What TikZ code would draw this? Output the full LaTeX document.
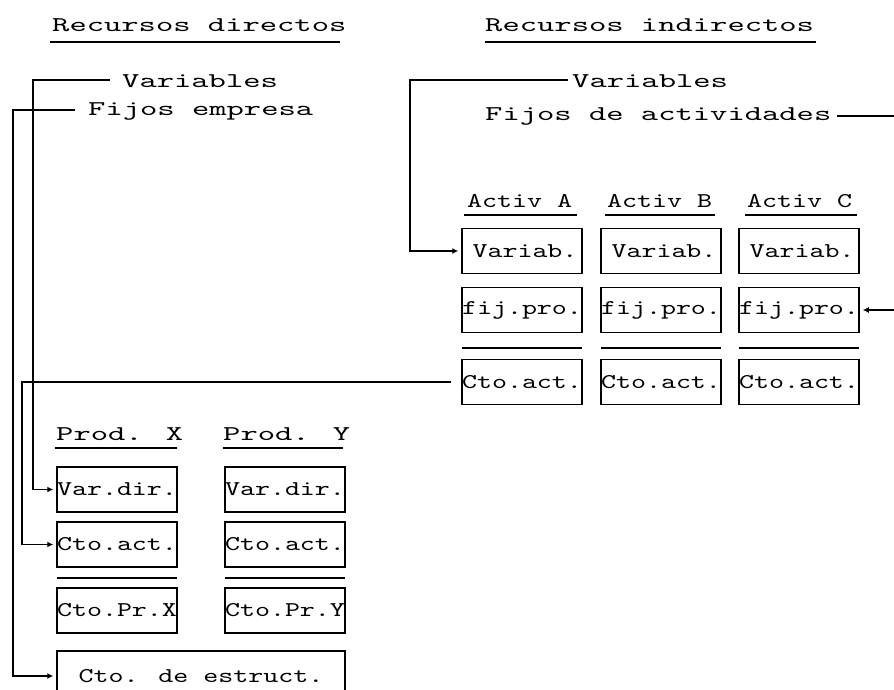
\documentclass[tikz,border=0pt]{standalone}
\usepackage{fontspec}
\usetikzlibrary{arrows.meta}
\newfontfamily\hdrf[FakeStretch=1.57]{lmmono10-regular.otf}
\newfontfamily\boxf[FakeStretch=1.36]{lmmono10-regular.otf}
\newcommand{\hdrfont}{\hdrf\fontsize{21}{21}\selectfont}
\newcommand{\boxfont}{\boxf\fontsize{21}{21}\selectfont}
\begin{document}
\begin{tikzpicture}[x=1pt,y=-1pt,
  lbl/.style={font=\hdrfont, inner sep=0pt, anchor=base west},
  slbl/.style={lbl, font=\boxfont},
  bx/.style={draw, line width=1.5pt, minimum width=120pt, minimum height=45pt, inner sep=0pt, font=\boxfont},
  ln/.style={line width=1.5pt},
  arr/.style={ln, -{Latex[length=6pt,width=6pt]}, shorten >=3pt}]
\fill[white] (0,0) rectangle (894,690);
\useasboundingbox (0,0) rectangle (894,690);
% headers
\node[lbl] (rd) at (52,32) {Recursos directos};
\node[lbl] (ri) at (485,32) {Recursos indirectos};
\draw[ln] (50,42) -- (340,42);
\draw[ln] (485,42) -- (816,42);
\node[lbl] (lv) at (122,88) {Variables};
\node[lbl] (lf) at (88,116) {Fijos empresa};
\node[lbl] (rv) at (572,88) {Variables};
\node[lbl] (rf) at (485,121) {Fijos de actividades};
% activities
\node[slbl] (aa) at (467,207) {Activ A};
\node[slbl] (ab) at (607,207) {Activ B};
\node[slbl] (ac) at (747,207) {Activ C};
\draw[ln] (464,215) -- (577,215);
\draw[ln] (605,215) -- (715,215);
\draw[ln] (745,215) -- (857,215);
\node[bx] (av) at (522,251) {\hspace*{6pt}Variab.};
\node[bx] (bv) at (661,251) {\hspace*{6pt}Variab.};
\node[bx] (cv) at (799,251) {\hspace*{6pt}Variab.};
\node[bx] (af) at (522,310) {fij.pro.};
\node[bx] (bf) at (661,310) {fij.pro.};
\node[bx] (cf) at (799,310) {fij.pro.};
\draw[ln] (462,348) -- (582,348);
\draw[ln] (601,348) -- (721,348);
\draw[ln] (739,348) -- (859,348);
\node[bx] (ac1) at (522,382) {Cto.act.};
\node[bx] (bc1) at (661,382) {Cto.act.};
\node[bx] (cc1) at (799,382) {Cto.act.};
% products
\node[lbl] (px) at (56,440) {Prod. X};
\node[lbl] (py) at (223,440) {Prod. Y};
\draw[ln] (55,448) -- (177,448);
\draw[ln] (223,448) -- (343,448);
\node[bx] (xv) at (117,489.5) {Var.dir.};
\node[bx] (yv) at (285,489.5) {Var.dir.};
\node[bx] (xc) at (117,544.5) {Cto.act.};
\node[bx] (yc) at (285,544.5) {Cto.act.};
\draw[ln] (57,578) -- (177,578);
\draw[ln] (225,578) -- (345,578);
\node[bx] (xp) at (117,610.5) {Cto.Pr.X};
\node[bx] (yp) at (285,610.5) {Cto.Pr.Y};
\node[bx, minimum width=288pt, minimum height=50pt] (es) at (201,676) {Cto. de estruct.};
% connectors
\coordinate (k1) at (33,0);
\coordinate (k2) at (13,0);
\coordinate (k3) at (22,0);
\coordinate (k4) at (410,0);
\coordinate (k5) at (898,0);
\draw[arr] ([xshift=-12pt,yshift=8pt]lv.base west) -| (k1 |- xv.west) -- (xv.west);
\draw[arr] ([xshift=-13pt,yshift=6pt]lf.base west) -| (k2 |- es.west) -- (es.west);
\draw[arr] ([xshift=-10pt]ac1.west) -| (k3 |- xc.west) -- (xc.west);
\draw[arr] ([xshift=-4pt,yshift=8pt]rv.base west) -| (k4 |- av.west) -- (av.west);
\draw[arr] ([xshift=5pt,yshift=5pt]rf.base east) -| (k5 |- cf.east) -- (cf.east);
\end{tikzpicture}
\end{document}
